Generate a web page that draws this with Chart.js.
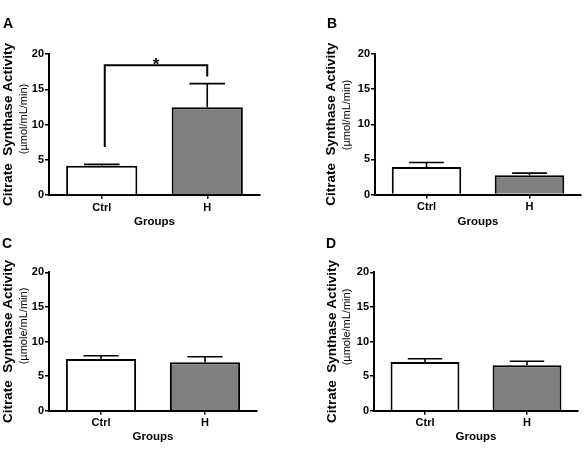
<!DOCTYPE html>
<html>
<head>
<meta charset="utf-8">
<script src="https://cdn.jsdelivr.net/npm/chart.js@4"></script>
<style>
  html, body { margin: 0; padding: 0; background: #fff; }
  body { width: 587px; height: 453px; position: relative; overflow: hidden; }
  canvas { position: absolute; }
</style>
</head>
<body>
<canvas id="cA" width="290" height="240" style="left:0;top:0"></canvas>
<canvas id="cB" width="297" height="240" style="left:290px;top:0"></canvas>
<canvas id="cC" width="290" height="223" style="left:0;top:230px"></canvas>
<canvas id="cD" width="297" height="223" style="left:290px;top:230px"></canvas>
<script>
const groups = ['Ctrl', 'H'];
const yTicks = [0, 5, 10, 15, 20];

const meanA = [4.15, 12.45];
const errA = [0.2, 3.35];
const meanB = [3.93, 2.75];
const errB = [0.63, 0.29];
const meanC = [7.47, 7.0];
const errC = [0.48, 0.8];
const meanD = [7.04, 6.56];
const errD = [0.47, 0.58];

// significance bracket in A: left leg end, top, right leg end
const bracketA = [6.8, 18.4, 16.8];
const sigA = '*';

const yTitle = 'Citrate  Synthase Activity';
const xTitle = 'Groups';
const unitsMol = '(µmol/mL/min)';
const unitsMole = '(µmole/mL/min)';

const FONT = "'Liberation Sans', Arial, sans-serif";
const barFill = ['#ffffff', '#808080'];

// draws panel letter, unit line, error bars and the bracket
const panelExtras = {
  id: 'panelExtras',
  afterDatasetsDraw(chart, args, opts) {
    const { ctx } = chart;
    const y = chart.scales.y;
    const meta = chart.getDatasetMeta(0);
    ctx.save();
    ctx.strokeStyle = '#000';
    ctx.fillStyle = '#000';

    ctx.lineWidth = 1.6;
    meta.data.forEach((bar, i) => {
      const base = y.getPixelForValue(opts.mean[i]);
      const top = y.getPixelForValue(opts.mean[i] + opts.err[i]);
      const half = bar.width / 4;
      ctx.beginPath();
      ctx.moveTo(bar.x, base);
      ctx.lineTo(bar.x, top);
      ctx.moveTo(bar.x - half, top);
      ctx.lineTo(bar.x + half, top);
      ctx.stroke();
    });

    if (opts.bracket) {
      const [l, t, r] = opts.bracket;
      const x0 = meta.data[0].x + 3, x1 = meta.data[1].x;
      const yt = y.getPixelForValue(t);
      ctx.lineWidth = 2;
      ctx.beginPath();
      ctx.moveTo(x0, y.getPixelForValue(l));
      ctx.lineTo(x0, yt);
      ctx.lineTo(x1, yt);
      ctx.lineTo(x1, y.getPixelForValue(r));
      ctx.stroke();
      ctx.font = 'bold 17px ' + FONT;
      ctx.textAlign = 'center';
      ctx.textBaseline = 'alphabetic';
      ctx.fillText(opts.sig, (x0 + x1) / 2, yt + 5);
    }

    ctx.font = 'bold 14px ' + FONT;
    ctx.textAlign = 'left';
    ctx.textBaseline = 'alphabetic';
    ctx.fillText(opts.letter, opts.letterPos[0], opts.letterPos[1]);

    ctx.translate(opts.subPos[0], opts.subPos[1]);
    ctx.rotate(-Math.PI / 2);
    ctx.font = '11px ' + FONT;
    ctx.textAlign = 'center';
    ctx.textBaseline = 'middle';
    ctx.fillText(opts.units, 0, 0);
    ctx.restore();
  }
};

function makePanel(canvasId, letter, mean, err, units, g, bracket) {
  const axisGrid = { drawOnChartArea: false, tickLength: 4, color: '#000', lineWidth: 1.5 };
  return new Chart(document.getElementById(canvasId), {
    type: 'bar',
    data: {
      labels: groups,
      datasets: [{
        data: mean,
        backgroundColor: barFill,
        borderColor: '#000',
        borderWidth: 2,
        borderSkipped: 'start',
        categoryPercentage: 1,
        barPercentage: 0.675
      }]
    },
    options: {
      responsive: false,
      animation: false,
      devicePixelRatio: 1,
      layout: { padding: { left: g.padL, top: g.top, right: g.w - g.right, bottom: 0 } },
      plugins: {
        legend: { display: false },
        tooltip: { enabled: false },
        panelExtras: { letter, mean, err, units, bracket, sig: sigA, letterPos: g.letter, subPos: g.sub }
      },
      scales: {
        x: {
          grid: { ...axisGrid, offset: false },
          border: { color: '#000', width: 2 },
          ticks: { color: '#000', padding: 2, font: { family: FONT, size: 11, weight: 'bold' } },
          title: {
            display: true, text: xTitle, color: '#000',
            font: { family: FONT, size: 11.5, weight: 'bold' },
            padding: { top: 0, bottom: g.h - g.groupsY - 6.9 }
          },
          afterFit: s => { s.height = g.h - g.bottom; }
        },
        y: {
          min: 0,
          max: 20,
          afterBuildTicks: s => { s.ticks = yTicks.map(v => ({ value: v })); },
          grid: axisGrid,
          border: { color: '#000', width: 2 },
          ticks: { color: '#000', padding: 1, font: { family: FONT, size: 11, weight: 'bold' } },
          title: {
            display: true, text: yTitle, color: '#000',
            font: { family: FONT, size: 13.5, weight: 'bold' },
            padding: { top: 0, bottom: 0 }
          },
          afterFit: s => { s.width = g.axisX - g.padL; }
        }
      }
    },
    plugins: [panelExtras]
  });
}

makePanel('cA', 'A', meanA, errA, unitsMol,
  { w: 290, h: 240, padL: 0, axisX: 49, top: 54, bottom: 195, right: 260, groupsY: 222, sub: [23.5, 119], letter: [3, 28] },
  bracketA);
makePanel('cB', 'B', meanB, errB, unitsMol,
  { w: 297, h: 240, padL: 33, axisX: 85, top: 54, bottom: 194.5, right: 291, groupsY: 222, sub: [56.5, 115], letter: [37, 28] });
makePanel('cC', 'C', meanC, errC, unitsMole,
  { w: 290, h: 223, padL: 0, axisX: 49, top: 42.3, bottom: 180.7, right: 257, groupsY: 207, sub: [24, 96], letter: [2, 18] });
makePanel('cD', 'D', meanD, errD, unitsMole,
  { w: 297, h: 223, padL: 34, axisX: 84, top: 42.3, bottom: 180.7, right: 288, groupsY: 207, sub: [56.5, 97], letter: [36, 18] });
</script>
</body>
</html>
